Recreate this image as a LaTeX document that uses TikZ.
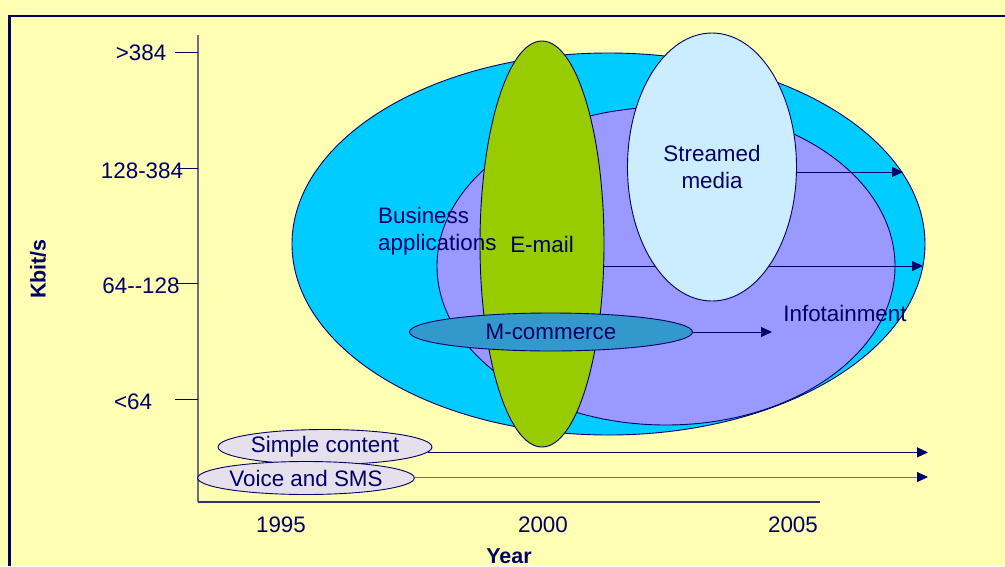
\documentclass[tikz,border=0pt]{standalone}
\usepackage{fontspec}
\setmainfont{Liberation Sans}
\usetikzlibrary{shapes.geometric,arrows.meta}
\definecolor{bgyellow}{RGB}{255,255,180}
\definecolor{navy}{RGB}{0,0,102}
\definecolor{cyanfill}{RGB}{0,204,255}
\definecolor{purplefill}{RGB}{153,153,255}
\definecolor{greenfill}{RGB}{153,204,0}
\definecolor{streamfill}{RGB}{204,236,255}
\definecolor{mcomfill}{RGB}{51,153,204}
\definecolor{lavfill}{RGB}{230,224,236}
\definecolor{axisgray}{RGB}{110,110,128}
\definecolor{axisdark}{RGB}{51,51,102}
\tikzset{
  ell/.style={ellipse, draw=navy, line width=0.9pt, inner sep=0pt, text=navy},
  lbl/.style={text=navy, inner sep=0pt, font=\fontsize{22.4}{27}\selectfont},
  blbl/.style={text=navy, inner sep=0pt, font=\fontsize{21.5}{26}\selectfont\bfseries},
  arr/.style={draw=navy, line width=1pt, -{Triangle[length=11pt,width=10pt,color=navy]}},
  tick/.style={draw=navy, line width=1pt},
}
\begin{document}
\begin{tikzpicture}[x=1pt,y=-1pt]
\useasboundingbox (0,0) rectangle (1005,566);
\fill[bgyellow] (0,0) rectangle (1005,566);
\draw[navy, line width=2.2pt] (1005,16) -- (9.5,16) -- (9.5,566);
% axes
\coordinate (ytop) at (198,35);
\coordinate (origin) at (198,502);
\coordinate (xend) at (820,502);
\draw[axisgray, line width=1.3pt] (ytop) -- (origin);
\draw[axisdark, line width=1.3pt] (origin) -- (xend);
% ticks
\coordinate (t1) at (198,52);
\coordinate (t2) at (198,168);
\coordinate (t3) at (198,283);
\coordinate (t4) at (198,399);
\draw[tick] (t1) -- ++(-23,0);
\draw[tick] (t2) -- ++(-21,0);
\draw[tick] (t3) -- ++(-21,0);
\draw[tick] (t4) -- ++(-23,0);
% axis labels
\node[lbl] (l384) at (141,53) {>384};
\node[lbl] (l128384) at (142,171) {128-384};
\node[lbl] (l64128) at (141,286) {64-{}-128};
\node[lbl] (l64) at (133,402) {<64};
\node[lbl] (y1995) at (281,525) {1995};
\node[lbl] (y2000) at (543,525) {2000};
\node[lbl] (y2005) at (793,525) {2005};
\node[blbl] (yearlbl) at (509,556) {Year};
\node[blbl, rotate=90] (kbit) at (38,269) {Kbit/s};
% ellipses
\node[ell, fill=cyanfill, minimum width=633pt, minimum height=382pt] (business) at (608.5,244) {};
\node[ell, fill=purplefill, minimum width=458pt, minimum height=318pt] (info) at (666,266) {};
\node[ell, fill=greenfill, minimum width=124pt, minimum height=406pt, font=\fontsize{22.4}{27}\selectfont] (email) at (542,244) {E-mail};
\coordinate (emailend) at (923,266);
\draw[arr] (email.east |- emailend) -- (emailend);
\node[ell, fill=streamfill, minimum width=169pt, minimum height=268pt, align=center, font=\fontsize{22.4}{27}\selectfont] (stream) at (712,167) {Streamed\\media};
\coordinate (streamend) at (903,172);
\draw[arr] (stream.east |- streamend) -- (streamend);
\node[ell, fill=mcomfill, minimum width=283pt, minimum height=38pt, font=\fontsize{22.4}{27}\selectfont] (mcom) at (551,332) {M-commerce};
\coordinate (mcomend) at (772,332);
\draw[arr] (mcom.east) -- (mcomend);
% texts
\node[lbl, anchor=west, align=left] (busytext) at (378,231) {Business\\applications};
\node[lbl] (infotext) at (845,313) {Infotainment};
% bottom ellipses
\node[ell, fill=lavfill, minimum width=214pt, minimum height=35pt, font=\fontsize{22.4}{27}\selectfont] (simple) at (325,447) {Simple content};
\node[ell, fill=lavfill, minimum width=214pt, minimum height=33pt, font=\fontsize{22.4}{27}\selectfont] (voice) at (306,478) {Voice and SMS};
\coordinate (simpleend) at (928,453);
\coordinate (voiceend) at (928,477);
\draw[arr] (simple.-3.4) -- (simple.-3.4 -| simpleend);
\draw[arr, draw=axisgray] (voice.east |- voiceend) -- (voiceend);
\end{tikzpicture}
\end{document}
